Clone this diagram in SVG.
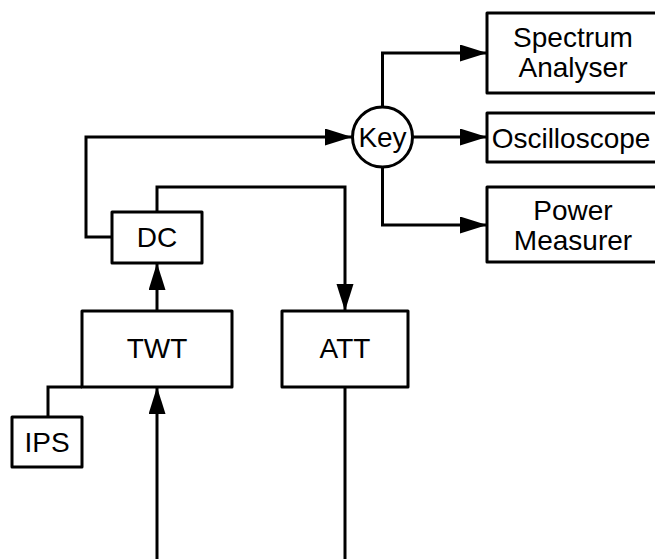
<svg xmlns="http://www.w3.org/2000/svg" width="655" height="559" viewBox="0 0 655 559">
<style>
.box{fill:#fff;stroke:#000;stroke-width:3;stroke-linejoin:round}
.ln{fill:none;stroke:#000;stroke-width:3;stroke-linejoin:miter}
.t{font-family:"Liberation Sans",Arial,sans-serif;font-size:28px;fill:#000;text-anchor:middle}
</style>
<defs>
<marker id="ah" markerUnits="userSpaceOnUse" markerWidth="28" markerHeight="18" refX="27" refY="8.5" orient="auto">
<path d="M0,0 L27,8.5 L0,17 z" fill="#000"/>
</marker>
</defs>
<rect width="655" height="559" fill="#fff"/>
<g id="connectors">
<polyline class="ln" points="112,237 86,237 86,137 352,137" marker-end="url(#ah)"/>
<polyline class="ln" points="157,212 157,187 345,187 345,311" marker-end="url(#ah)"/>
<line class="ln" x1="157" y1="311" x2="157" y2="263" marker-end="url(#ah)"/>
<polyline class="ln" points="48,417 48,387 82,387"/>
<line class="ln" x1="157" y1="559" x2="157" y2="387" marker-end="url(#ah)"/>
<line class="ln" x1="345" y1="387" x2="345" y2="559"/>
<polyline class="ln" points="382.5,107 382.5,53 487,53" marker-end="url(#ah)"/>
<line class="ln" x1="412.5" y1="137" x2="487" y2="137" marker-end="url(#ah)"/>
<polyline class="ln" points="382.5,167 382.5,225 487,225" marker-end="url(#ah)"/>
</g>
<g id="key"><circle class="box" cx="382.5" cy="137" r="30"/><text class="t" x="382.5" y="147">Key</text></g>
<g id="dc"><rect class="box" x="112" y="212" width="90" height="51"/><text class="t" x="157" y="247">DC</text></g>
<g id="twt"><rect class="box" x="82" y="311" width="150" height="76"/><text class="t" x="157" y="358">TWT</text></g>
<g id="att"><rect class="box" x="282" y="311" width="126" height="76"/><text class="t" x="345" y="358">ATT</text></g>
<g id="ips"><rect class="box" x="12" y="417" width="70" height="50"/><text class="t" x="47" y="452">IPS</text></g>
<g id="spectrum"><rect class="box" x="487" y="13" width="172" height="80"/><text class="t" x="573" y="47">Spectrum</text><text class="t" x="573" y="77">Analyser</text></g>
<g id="osc"><rect class="box" x="487" y="113" width="172" height="49"/><text class="t" x="571" y="148">Oscilloscope</text></g>
<g id="power"><rect class="box" x="487" y="187" width="172" height="75"/><text class="t" x="573" y="220">Power</text><text class="t" x="573" y="250">Measurer</text></g>
</svg>
